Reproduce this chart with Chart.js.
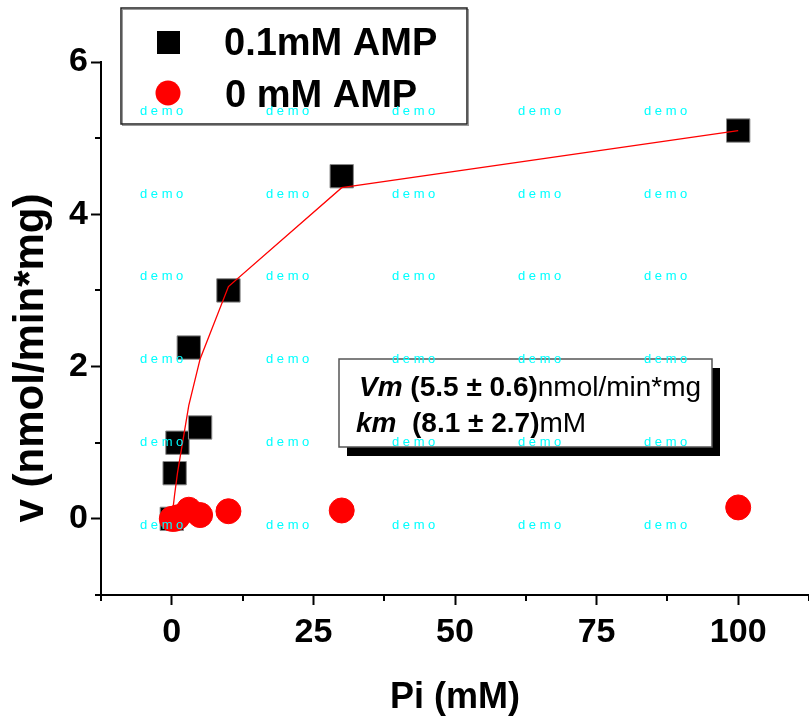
<!DOCTYPE html>
<html>
<head>
<meta charset="utf-8">
<script src="https://cdn.jsdelivr.net/npm/chart.js@4/dist/chart.umd.min.js"></script>
<style>
  html, body { margin: 0; padding: 0; background: #fff; overflow: hidden; }
  #chart { display: block; }
</style>
</head>
<body>
<canvas id="chart" width="809" height="723"></canvas>
<script>
// 데이터
const piValues = [0, 0.5, 1, 3, 5, 10, 30, 100];
const ampValues = [0, 0.6, 1.0, 2.25, 1.2, 3.0, 4.5, 5.1];
const noAmpValues = [0, 0, 0.02, 0.12, 0.05, 0.1, 0.11, 0.15];
const fitValues = [0, 0.32, 0.6, 1.49, 2.1, 3.05, 4.35, 5.1];
const seriesLabels = ["0.1mM AMP", "0 mM AMP"];
const xTickLabels = [0, 25, 50, 75, 100];
const yTickLabels = [0, 2, 4, 6];
const xTitle = "Pi (mM)";
const yTitle = "v (nmol/min*mg)";
const fitLine1 = [["Vm", "bi"], [" ", "b"], ["(5.5 ± 0.6)", "b"], ["nmol/min*mg", "n"]];
const fitLine2 = [["km", "bi"], ["  ", "b"], ["(8.1 ± 2.7)", "b"], ["mM", "n"]];
const watermark = "d e m o";

const FONT = '"Liberation Sans", Arial, sans-serif';

function toPoints(xs, ys) {
  return xs.map((x, i) => ({ x, y: ys[i] }));
}

function hasLabel(v, list) {
  return list.some(l => Math.abs(l - v) < 1e-6);
}

// 보조 눈금 (짧게)
function drawMinorTicks(chart) {
  const ctx = chart.ctx;
  const xs = chart.scales.x, ys = chart.scales.y;
  const area = chart.chartArea;
  ctx.save();
  ctx.strokeStyle = "#000";
  ctx.lineWidth = 2;
  ctx.beginPath();
  xs.ticks.forEach(t => {
    if (hasLabel(t.value, xTickLabels)) return;
    const px = Math.round(xs.getPixelForValue(t.value));
    ctx.moveTo(px, area.bottom);
    ctx.lineTo(px, area.bottom + 6);
  });
  ys.ticks.forEach(t => {
    if (hasLabel(t.value, yTickLabels)) return;
    const py = Math.round(ys.getPixelForValue(t.value));
    ctx.moveTo(area.left, py);
    ctx.lineTo(area.left - 6, py);
  });
  ctx.stroke();
  ctx.restore();
}

function drawLegendBox(chart) {
  const ctx = chart.ctx;
  const ds = chart.data.datasets;
  ctx.save();
  ctx.fillStyle = "#fff";
  ctx.fillRect(121, 8, 347, 117);
  ctx.strokeStyle = "#999";
  ctx.lineWidth = 1;
  ctx.strokeRect(122.5, 9.5, 346, 116);
  ctx.strokeStyle = "#222";
  ctx.lineWidth = 1.5;
  ctx.strokeRect(121, 8, 346, 116);

  // 사각형 심볼
  ctx.fillStyle = ds[0].backgroundColor;
  ctx.fillRect(157, 31, 23, 23);
  // 원 심볼
  ctx.fillStyle = ds[1].backgroundColor;
  ctx.beginPath();
  ctx.arc(168, 93, 12.5, 0, Math.PI * 2);
  ctx.fill();

  ctx.fillStyle = "#000";
  ctx.font = "bold 38px " + FONT;
  ctx.textBaseline = "alphabetic";
  ctx.textAlign = "left";
  ctx.fillText(ds[0].label, 224, 55);
  ctx.fillText(ds[1].label, 225, 107);
  ctx.restore();
}

function drawRich(ctx, x, y, parts, size) {
  const fonts = { bi: "italic bold ", b: "bold ", n: "" };
  parts.forEach(([t, f]) => {
    ctx.font = fonts[f] + size + "px " + FONT;
    ctx.fillText(t, x, y);
    x += ctx.measureText(t).width;
  });
}

function drawFitBox(chart) {
  const ctx = chart.ctx;
  ctx.save();
  // 그림자
  ctx.fillStyle = "#000";
  ctx.fillRect(347, 368, 373, 88);
  ctx.fillStyle = "#fff";
  ctx.fillRect(339, 359, 373, 88);
  ctx.strokeStyle = "#555";
  ctx.lineWidth = 1.5;
  ctx.strokeRect(339, 359, 373, 88);

  ctx.fillStyle = "#000";
  ctx.textBaseline = "alphabetic";
  ctx.textAlign = "left";
  drawRich(ctx, 359, 396, fitLine1, 28);
  drawRich(ctx, 356, 432, fitLine2, 28);
  ctx.restore();
}

function drawYTitle(chart) {
  const ctx = chart.ctx;
  ctx.save();
  ctx.translate(31, 358);
  ctx.rotate(-Math.PI / 2);
  ctx.fillStyle = "#000";
  ctx.font = "bold 42px " + FONT;
  ctx.textAlign = "center";
  ctx.textBaseline = "middle";
  ctx.fillText(yTitle, 0, 0);
  ctx.restore();
}

function drawWatermark(chart) {
  const ctx = chart.ctx;
  ctx.save();
  ctx.fillStyle = "#00ffff";
  ctx.font = "13px " + FONT;
  ctx.textAlign = "left";
  ctx.textBaseline = "middle";
  for (let r = 0; r < 6; r++) {
    for (let c = 0; c < 5; c++) {
      ctx.fillText(watermark, 140 + c * 126, 111.5 + r * 82.7);
    }
  }
  ctx.restore();
}

const decorPlugin = {
  id: "decor",
  afterDraw(chart) {
    drawMinorTicks(chart);
    drawLegendBox(chart);
    drawFitBox(chart);
    drawYTitle(chart);
    drawWatermark(chart);
  }
};

const tickFont = { family: FONT, size: 34, weight: "bold" };

new Chart(document.getElementById("chart"), {
  type: "scatter",
  data: {
    datasets: [
      {
        label: seriesLabels[0],
        data: toPoints(piValues, ampValues),
        pointStyle: "rect",
        pointRadius: 16.5,
        backgroundColor: "#000",
        borderColor: "#888",
        borderWidth: 1,
        order: 2
      },
      {
        label: seriesLabels[1],
        data: toPoints(piValues, noAmpValues),
        pointStyle: "circle",
        pointRadius: 12.5,
        backgroundColor: "#ff0000",
        borderColor: "#ff0000",
        borderWidth: 1,
        order: 0
      },
      {
        label: "fit",
        type: "line",
        data: toPoints(piValues, fitValues),
        borderColor: "#ff0000",
        borderWidth: 1.3,
        pointRadius: 0,
        fill: false,
        tension: 0,
        order: 1
      }
    ]
  },
  options: {
    responsive: false,
    animation: false,
    devicePixelRatio: 1,
    events: [],
    layout: { autoPadding: false, padding: { top: 62, right: 0, left: 0, bottom: 0 } },
    plugins: {
      legend: { display: false },
      tooltip: { enabled: false }
    },
    scales: {
      x: {
        type: "linear",
        min: -12.5,
        max: 112.5,
        afterFit: s => { s.height = 128; s.paddingLeft = 0; s.paddingRight = 0; },
        ticks: {
          stepSize: 12.5,
          padding: 7,
          color: "#000",
          font: tickFont,
          maxRotation: 0,
          autoSkip: false,
          callback: v => hasLabel(v, xTickLabels) ? String(v) : ""
        },
        grid: {
          drawOnChartArea: false,
          drawTicks: true,
          tickLength: 10,
          tickWidth: 2,
          tickColor: c => (c.tick && hasLabel(c.tick.value, xTickLabels)) ? "#000" : "rgba(0,0,0,0)"
        },
        border: { display: true, color: "#000", width: 2 },
        title: {
          display: true,
          text: xTitle,
          color: "#000",
          font: { family: FONT, size: 36, weight: "bold" },
          padding: { top: 0, bottom: 3 }
        }
      },
      y: {
        type: "linear",
        min: -1,
        max: 6,
        afterFit: s => { s.width = 101; s.paddingTop = 0; s.paddingBottom = 0; },
        ticks: {
          stepSize: 1,
          padding: 3,
          color: "#000",
          font: tickFont,
          autoSkip: false,
          callback: v => hasLabel(v, yTickLabels) ? String(v) : ""
        },
        grid: {
          drawOnChartArea: false,
          drawTicks: true,
          tickLength: 10,
          tickWidth: 2,
          tickColor: c => (c.tick && hasLabel(c.tick.value, yTickLabels)) ? "#000" : "rgba(0,0,0,0)"
        },
        border: { display: true, color: "#000", width: 2 }
      }
    }
  },
  plugins: [decorPlugin]
});
</script>
</body>
</html>
